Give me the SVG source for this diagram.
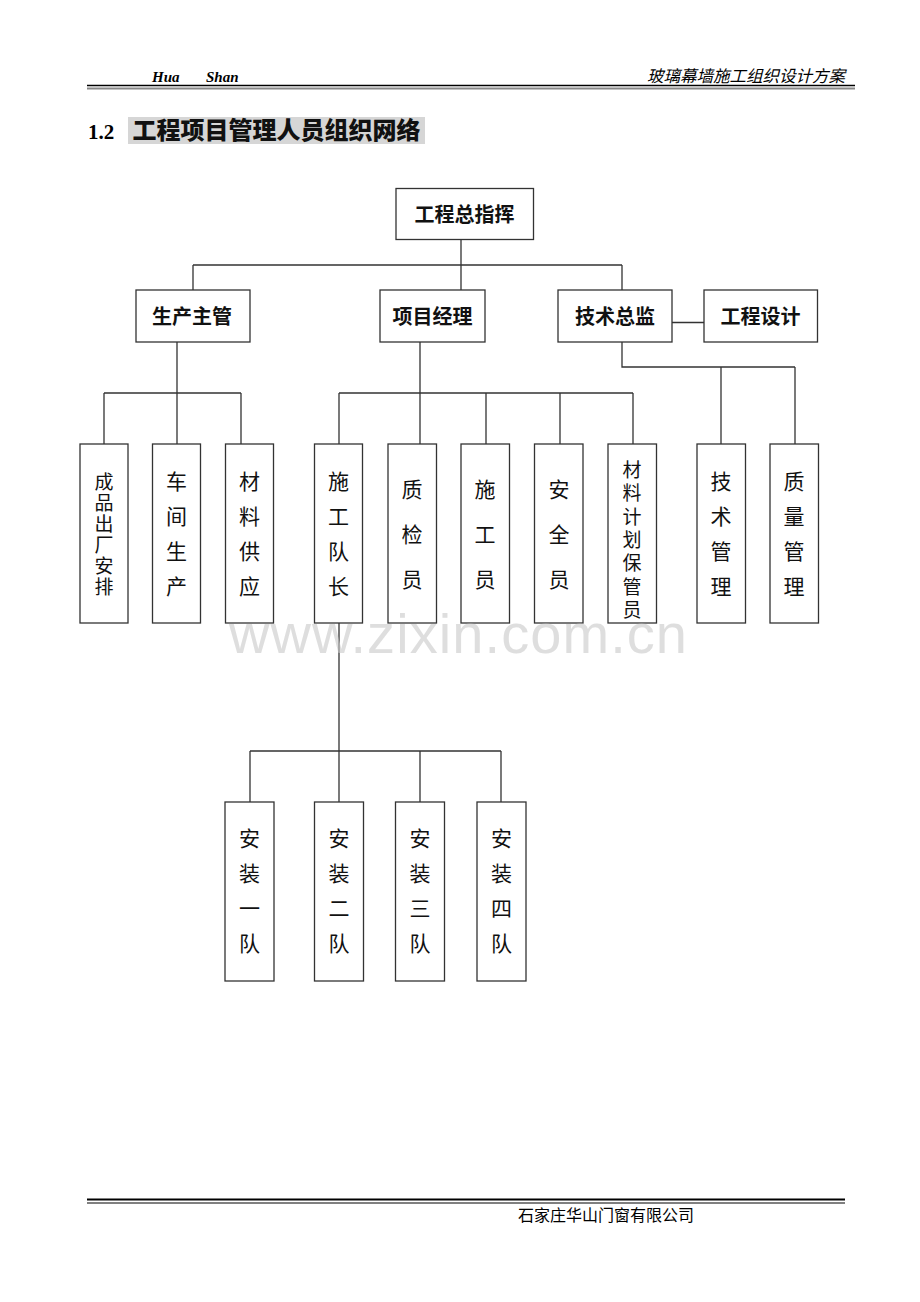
<svg xmlns="http://www.w3.org/2000/svg" width="920" height="1302" viewBox="0 0 920 1302">
<style>
.box{fill:#fff;stroke:#333;stroke-width:1.3}
.ln{fill:none;stroke:#333;stroke-width:1.3}
.t1{font-family:"Noto Sans CJK SC","Noto Sans",sans-serif;font-size:20px;font-weight:700;fill:#111;text-anchor:middle}
.tv{font-family:"Noto Sans CJK SC","Noto Sans",sans-serif;font-size:21px;fill:#111;text-anchor:middle}
.vt{font-family:"Noto Sans CJK SC","Noto Sans",sans-serif;font-size:19px;fill:#111;text-anchor:middle;writing-mode:vertical-rl}
</style>
<rect width="920" height="1302" fill="#fff"/>
<g id="header">
<text x="152" y="82" font-family="Liberation Serif,serif" font-size="15" font-style="italic" font-weight="bold" fill="#000">Hua</text>
<text x="206" y="82" font-family="Liberation Serif,serif" font-size="15" font-style="italic" font-weight="bold" fill="#000">Shan</text>
<text x="845" y="82" text-anchor="end" font-family="Noto Sans CJK SC,sans-serif" font-size="16.5" font-style="italic" fill="#000">玻璃幕墙施工组织设计方案</text>
<line x1="87" y1="85.5" x2="855" y2="85.5" stroke="#000" stroke-width="1.5"/>
<line x1="87" y1="88.5" x2="855" y2="88.5" stroke="#888" stroke-width="2"/>
</g>
<g id="title">
<text x="88" y="139" font-family="Liberation Serif,serif" font-size="21" font-weight="bold" fill="#000">1.2</text>
<rect x="128" y="117" width="297" height="27" fill="#d6d6d6"/>
<text x="276.5" y="139" text-anchor="middle" font-family="Noto Sans CJK SC,sans-serif" font-size="24" font-weight="900" fill="#111">工程项目管理人员组织网络</text>
</g>
<g id="connectors">
<path class="ln" d="M461 239V290M193 265H622M193 265V290M622 265V290M672 322.5H704"/>
<path class="ln" d="M177 342V393M104 393H241M104 393V444M177 393V444M241 393V444"/>
<path class="ln" d="M420 342V444M339 393H633M339 393V444M486 393V444M560 393V444M633 393V444"/>
<path class="ln" d="M622 342V367H795M721 367V444M795 367V444"/>
<path class="ln" d="M339 623V802M250 751H501M250 751V802M420 751V802M501 751V802"/>
</g>
<g id="n-zongzhihui"><rect class="box" x="396" y="188.5" width="137.5" height="51"/><text class="t1" x="464.5" y="222">工程总指挥</text></g>
<g id="n-shengchan"><rect class="box" x="136" y="290" width="114" height="52"/><text class="t1" x="192" y="323.5">生产主管</text></g>
<g id="n-xiangmu"><rect class="box" x="380" y="290" width="105" height="52"/><text class="t1" x="432.5" y="323.5">项目经理</text></g>
<g id="n-jishu"><rect class="box" x="558" y="290" width="114" height="52"/><text class="t1" x="615" y="323.5">技术总监</text></g>
<g id="n-sheji"><rect class="box" x="704" y="290" width="113.5" height="52"/><text class="t1" x="760.5" y="323.5">工程设计</text></g>

<g id="n-chengpin"><rect class="box" x="80" y="444" width="48" height="179"/>
<text class="vt" x="104" y="535" letter-spacing="2">成品出厂安排</text></g>
<g id="n-chejian"><rect class="box" x="152.5" y="444" width="48" height="179"/>
<text class="tv"><tspan x="176.5" y="489">车</tspan><tspan x="176.5" y="524">间</tspan><tspan x="176.5" y="559">生</tspan><tspan x="176.5" y="594">产</tspan></text></g>
<g id="n-cailiao"><rect class="box" x="225.5" y="444" width="48" height="179"/>
<text class="tv"><tspan x="249.5" y="489">材</tspan><tspan x="249.5" y="524">料</tspan><tspan x="249.5" y="559">供</tspan><tspan x="249.5" y="594">应</tspan></text></g>
<g id="n-duizhang"><rect class="box" x="314.5" y="444" width="48" height="179"/>
<text class="tv"><tspan x="338.5" y="489">施</tspan><tspan x="338.5" y="524">工</tspan><tspan x="338.5" y="559">队</tspan><tspan x="338.5" y="594">长</tspan></text></g>
<g id="n-zhijian"><rect class="box" x="388" y="444" width="48.5" height="179"/>
<text class="tv"><tspan x="412" y="497">质</tspan><tspan x="412" y="542">检</tspan><tspan x="412" y="587">员</tspan></text></g>
<g id="n-shigong"><rect class="box" x="461" y="444" width="48.5" height="179"/>
<text class="tv"><tspan x="485" y="497">施</tspan><tspan x="485" y="542">工</tspan><tspan x="485" y="587">员</tspan></text></g>
<g id="n-anquan"><rect class="box" x="534.5" y="444" width="48.5" height="179"/>
<text class="tv"><tspan x="559" y="497">安</tspan><tspan x="559" y="542">全</tspan><tspan x="559" y="587">员</tspan></text></g>
<g id="n-baoguan"><rect class="box" x="608" y="444" width="48.5" height="179"/>
<text class="vt" x="632" y="542" letter-spacing="4.3">材料计划保管员</text></g>
<g id="n-jishuguanli"><rect class="box" x="697" y="444" width="48.5" height="179"/>
<text class="tv"><tspan x="721" y="489">技</tspan><tspan x="721" y="524">术</tspan><tspan x="721" y="559">管</tspan><tspan x="721" y="594">理</tspan></text></g>
<g id="n-zhiliang"><rect class="box" x="770" y="444" width="48.5" height="179"/>
<text class="tv"><tspan x="794" y="489">质</tspan><tspan x="794" y="524">量</tspan><tspan x="794" y="559">管</tspan><tspan x="794" y="594">理</tspan></text></g>

<g id="n-an1"><rect class="box" x="225" y="802" width="49" height="179"/>
<text class="tv"><tspan x="249.5" y="846">安</tspan><tspan x="249.5" y="881">装</tspan><tspan x="249.5" y="916">一</tspan><tspan x="249.5" y="951">队</tspan></text></g>
<g id="n-an2"><rect class="box" x="314.5" y="802" width="49" height="179"/>
<text class="tv"><tspan x="339" y="846">安</tspan><tspan x="339" y="881">装</tspan><tspan x="339" y="916">二</tspan><tspan x="339" y="951">队</tspan></text></g>
<g id="n-an3"><rect class="box" x="395.5" y="802" width="49" height="179"/>
<text class="tv"><tspan x="420" y="846">安</tspan><tspan x="420" y="881">装</tspan><tspan x="420" y="916">三</tspan><tspan x="420" y="951">队</tspan></text></g>
<g id="n-an4"><rect class="box" x="477" y="802" width="49" height="179"/>
<text class="tv"><tspan x="501.5" y="846">安</tspan><tspan x="501.5" y="881">装</tspan><tspan x="501.5" y="916">四</tspan><tspan x="501.5" y="951">队</tspan></text></g>

<g id="watermark">
<text x="458" y="653" text-anchor="middle" font-family="Liberation Sans,Arial,sans-serif" font-size="56" fill="#c8c8c8" fill-opacity="0.6" textLength="458">www.zixin.com.cn</text>
</g>
<g id="footer">
<line x1="87" y1="1199.5" x2="845" y2="1199.5" stroke="#000" stroke-width="2"/>
<line x1="87" y1="1203" x2="845" y2="1203" stroke="#000" stroke-width="1"/>
<text x="518" y="1221" font-family="Liberation Serif,Noto Sans CJK SC,serif" font-size="16" fill="#000">石家庄华山门窗有限公司</text>
</g>
</svg>
